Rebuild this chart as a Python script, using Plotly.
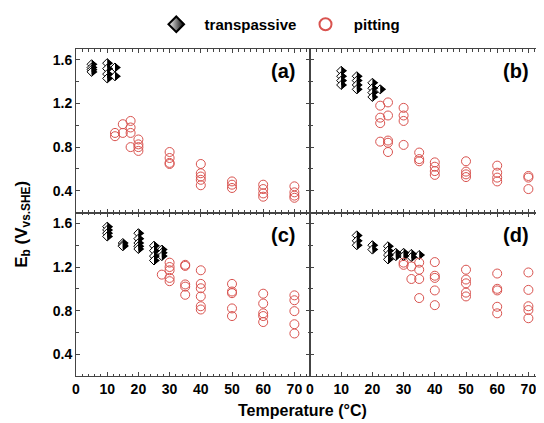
import plotly.graph_objects as go
from plotly.subplots import make_subplots

# ---- data (temperature in degC, breakdown potential in V vs. SHE) ----
trans_a_T = [5, 5, 5, 5, 10, 10, 10, 10, 12.5, 12.5]
trans_a_E = [1.56, 1.53, 1.51, 1.49, 1.57, 1.52, 1.47, 1.43, 1.53, 1.45]
pit_a_T = [12.5, 12.5, 15, 15, 17.5, 17.5, 17.5, 17.5, 20, 20, 20, 20,
           30, 30, 30, 30, 40, 40, 40, 40, 40, 50, 50, 50,
           60, 60, 60, 60, 70, 70, 70, 70]
pit_a_E = [0.93, 0.90, 1.01, 0.93, 1.04, 0.98, 0.93, 0.80, 0.87, 0.825, 0.80, 0.765,
           0.755, 0.70, 0.655, 0.645, 0.645, 0.56, 0.53, 0.50, 0.45, 0.485, 0.455, 0.425,
           0.455, 0.415, 0.375, 0.345, 0.44, 0.385, 0.355, 0.335]

trans_b_T = [10, 10, 10, 10, 15, 15, 15, 15, 20, 20, 20, 20, 22.5]
trans_b_E = [1.50, 1.45, 1.41, 1.37, 1.45, 1.41, 1.37, 1.33, 1.39, 1.34, 1.30, 1.26, 1.33]
pit_b_T = [22.5, 22.5, 22.5, 22.5, 25, 25, 25, 25, 25, 30, 30, 30, 30,
           35, 35, 35, 40, 40, 40, 40, 50, 50, 50, 50,
           60, 60, 60, 60, 70, 70, 70]
pit_b_E = [1.18, 1.07, 1.02, 0.85, 1.21, 1.09, 0.86, 0.84, 0.755, 1.16, 1.09, 1.04, 0.82,
           0.75, 0.69, 0.67, 0.66, 0.62, 0.58, 0.545, 0.67, 0.575, 0.55, 0.525,
           0.63, 0.565, 0.52, 0.485, 0.535, 0.52, 0.415]

trans_c_T = [10, 10, 10, 10, 15, 15, 15, 20, 20, 20, 20, 20, 25, 25, 25, 25, 27.5, 27.5, 27.5]
trans_c_E = [1.57, 1.54, 1.51, 1.48, 1.42, 1.40, 1.39, 1.51, 1.46, 1.42, 1.39, 1.365,
             1.395, 1.35, 1.30, 1.26, 1.36, 1.33, 1.30]
pit_c_T = [27.5, 30, 30, 30, 30, 30, 35, 35, 35, 35, 35,
           40, 40, 40, 40, 40, 40, 50, 50, 50, 50, 50,
           60, 60, 60, 60, 60, 70, 70, 70, 70, 70]
pit_c_E = [1.13, 1.24, 1.20, 1.17, 1.10, 1.07, 1.22, 1.21, 1.04, 1.02, 0.945,
           1.17, 1.045, 1.005, 0.93, 0.84, 0.81, 1.045, 0.975, 0.96, 0.82, 0.75,
           0.955, 0.865, 0.775, 0.75, 0.695, 0.94, 0.895, 0.795, 0.675, 0.59]

trans_d_T = [15, 15, 15, 20, 20, 25, 25, 25, 25, 27.5, 27.5, 30, 30, 32.5, 32.5, 35]
trans_d_E = [1.49, 1.44, 1.40, 1.40, 1.36, 1.39, 1.35, 1.31, 1.27, 1.33, 1.30,
             1.33, 1.30, 1.32, 1.29, 1.31]
pit_d_T = [30, 30, 32.5, 32.5, 35, 35, 35, 35, 40, 40, 40, 40, 40,
           50, 50, 50, 50, 50, 60, 60, 60, 60, 60, 70, 70, 70, 70, 70]
pit_d_E = [1.24, 1.22, 1.205, 1.09, 1.24, 1.175, 1.09, 0.915, 1.245, 1.12, 1.10, 0.985, 0.85,
           1.175, 1.085, 1.05, 0.965, 0.93, 1.14, 1.00, 0.985, 0.835, 0.775,
           1.15, 0.99, 0.84, 0.805, 0.73]

panels = [
    ("(a)", 1, 1, trans_a_T, trans_a_E, pit_a_T, pit_a_E),
    ("(b)", 1, 2, trans_b_T, trans_b_E, pit_b_T, pit_b_E),
    ("(c)", 2, 1, trans_c_T, trans_c_E, pit_c_T, pit_c_E),
    ("(d)", 2, 2, trans_d_T, trans_d_E, pit_d_T, pit_d_E),
]

x_ticks = [0, 10, 20, 30, 40, 50, 60, 70]
y_ticks = [0.4, 0.8, 1.2, 1.6]

FONT = "Arial, Liberation Sans, sans-serif"
RED = "#d9534f"
FRAME = "#444444"

# geometry used to place the black right half of each diamond marker
FIG_W, MARGIN_L, MARGIN_R = 536, 68, 0
X_RANGE = [0, 75]
panel_px = (FIG_W - MARGIN_L - MARGIN_R) / 2
px_per_unit = panel_px / (X_RANGE[1] - X_RANGE[0])
DIA_SIZE = 7
dia_half = 1.3 * DIA_SIZE / 2            # half-width of plotly diamond (px)
TRI_SIZE = 2 * dia_half / 1.155          # triangle-right with matching half-height
tri_shift = (TRI_SIZE / 4) / px_per_unit  # move triangle base onto diamond centre

fig = make_subplots(rows=2, cols=2, horizontal_spacing=0, vertical_spacing=0)

for i, (lab, r, c, tT, tE, pT, pE) in enumerate(panels):
    fig.add_trace(go.Scatter(
        x=tT, y=tE, mode="markers", showlegend=False, hoverinfo="skip",
        marker=dict(symbol="diamond", size=DIA_SIZE, color="white",
                    line=dict(color="black", width=1)),
    ), row=r, col=c)
    fig.add_trace(go.Scatter(
        x=[t + tri_shift for t in tT], y=tE, mode="markers", showlegend=False,
        hoverinfo="skip",
        marker=dict(symbol="triangle-right", size=TRI_SIZE, color="black",
                    line=dict(width=0)),
    ), row=r, col=c)
    fig.add_trace(go.Scatter(
        x=pT, y=pE, mode="markers", name="&nbsp;&nbsp;pitting", showlegend=(i == 0),
        legendrank=2,
        marker=dict(symbol="circle-open", size=9, color=RED, line=dict(width=1)),
    ), row=r, col=c)
    xd = "x domain" if i == 0 else f"x{i+1} domain"
    yd = "y domain" if i == 0 else f"y{i+1} domain"
    fig.add_annotation(text=lab, xref=xd, yref=yd, x=0.945, y=0.865,
                       xanchor="right", yanchor="middle", showarrow=False,
                       font=dict(family=FONT, size=20, color="black", weight="bold"))

# legend-only entry for the half-filled diamond
fig.add_trace(go.Scatter(
    x=[None], y=[None], mode="markers", name="&nbsp;&nbsp;transpassive&nbsp;", legendrank=1,
    marker=dict(symbol="diamond", size=DIA_SIZE, color="white",
                gradient=dict(type="horizontal", color="black"),
                line=dict(color="black", width=1)),
), row=1, col=1)

axis_common = dict(
    showgrid=False, zeroline=False, showline=True, linecolor=FRAME, linewidth=1,
    mirror="ticks", ticks="inside", ticklen=4, tickwidth=1, tickcolor=FRAME,
    tickfont=dict(family=FONT, size=14, color="black", weight="bold"),
)
for r in (1, 2):
    for c in (1, 2):
        fig.update_xaxes(range=X_RANGE, tickvals=x_ticks,
                         minor=dict(dtick=2, ticks="inside", ticklen=2.5, tickcolor=FRAME),
                         showticklabels=(r == 2), row=r, col=c, **axis_common)
        fig.update_yaxes(range=[0.2, 1.7], tickvals=y_ticks, tickformat=".1f",
                         minor=dict(dtick=0.2, ticks="inside", ticklen=2.5, tickcolor=FRAME),
                         showticklabels=(c == 1), row=r, col=c, **axis_common)

fig.add_annotation(text="E<sub>b</sub> (V<sub>vs.SHE</sub>)", xref="paper", yref="paper",
                   x=-0.115, y=0.463, xanchor="center", yanchor="middle",
                   textangle=-90, showarrow=False,
                   font=dict(family=FONT, size=17, color="black", weight="bold"))
fig.add_annotation(text="Temperature (°C)", xref="paper", yref="paper",
                   x=0.485, y=-0.104, xanchor="center", yanchor="middle", showarrow=False,
                   font=dict(family=FONT, size=16, color="black", weight="bold"))

# page body has an 8px default margin, so the figure is 8px smaller and shifted
fig.update_layout(
    width=FIG_W, height=415,
    margin=dict(l=MARGIN_L, r=MARGIN_R, t=39, b=47),
    plot_bgcolor="white", paper_bgcolor="white",
    legend=dict(orientation="h", x=0.1715, y=1.075, xanchor="left", yanchor="middle",
                font=dict(family=FONT, size=15, color="black", weight="bold"),
                itemsizing="constant", traceorder="normal"),
)

fig.write_html("out.html")
